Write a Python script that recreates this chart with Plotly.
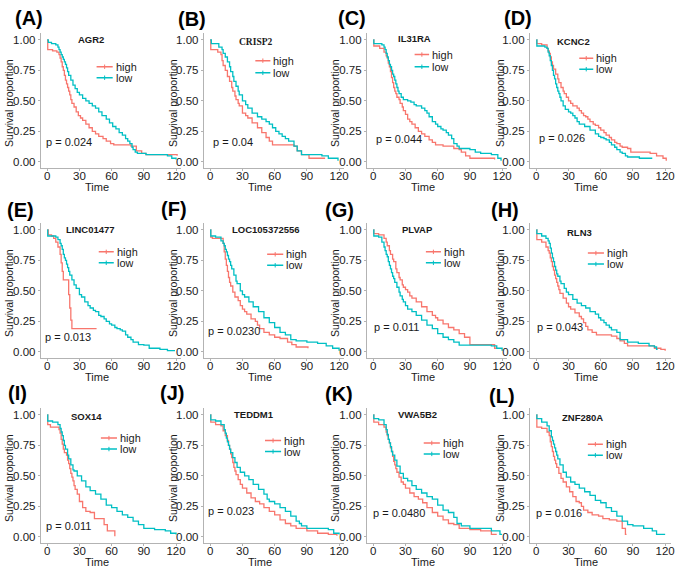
import plotly.graph_objects as go

W, H = 682, 570

# ---------------- data: Kaplan-Meier curves [time, survival] ----------------
AGR2_high = [[0,1.0],[0.5,0.92],[5,0.91],[9,0.90],[11,0.88],[12,0.85],[13,0.82],[14,0.78],[15,0.75],[16,0.71],[17,0.67],[18,0.64],[19,0.61],[20,0.58],[21,0.55],[22,0.51],[23,0.48],[25,0.45],[27,0.41],[29,0.38],[31,0.36],[33,0.34],[36,0.31],[39,0.28],[42,0.25],[45,0.23],[48,0.21],[52,0.19],[55,0.17],[59,0.15],[62,0.14],[78,0.13],[83,0.09],[88,0.07],[92,0.06],[121,0.05]]
AGR2_low = [[0,1.0],[1,0.98],[4,0.97],[8,0.96],[10,0.94],[11,0.92],[12,0.90],[13,0.88],[14,0.86],[15,0.84],[16,0.82],[17,0.80],[18,0.77],[19,0.74],[20,0.71],[22,0.67],[24,0.63],[26,0.60],[28,0.57],[30,0.55],[33,0.52],[36,0.50],[39,0.48],[42,0.46],[45,0.44],[48,0.41],[51,0.38],[55,0.35],[58,0.32],[61,0.29],[64,0.27],[67,0.24],[70,0.22],[73,0.19],[75,0.17],[77,0.15],[79,0.12],[80,0.10],[82,0.08],[84,0.07],[92,0.06],[112,0.05],[116,0.03],[120,0.02]]

CRISP2_high = [[0,1.0],[0.5,0.92],[7,0.90],[10,0.88],[11,0.83],[12,0.79],[14,0.75],[16,0.70],[18,0.66],[20,0.61],[21,0.58],[23,0.54],[24,0.51],[26,0.48],[27,0.46],[30,0.40],[33,0.38],[35,0.36],[39,0.32],[44,0.28],[48,0.24],[52,0.20],[55,0.17],[58,0.14],[78,0.13],[81,0.09],[85,0.06],[92,0.03],[107,0.03]]
CRISP2_low = [[0,1.0],[1,0.97],[8,0.94],[11,0.92],[12,0.89],[14,0.86],[16,0.82],[18,0.78],[19,0.74],[21,0.70],[22,0.66],[24,0.62],[26,0.58],[27,0.55],[30,0.50],[33,0.47],[35,0.44],[39,0.40],[44,0.37],[48,0.35],[52,0.33],[55,0.31],[58,0.28],[61,0.25],[64,0.23],[67,0.21],[70,0.19],[73,0.17],[78,0.13],[81,0.09],[85,0.06],[98,0.06],[104,0.05],[110,0.03],[119,0.01]]

IL31RA_high = [[0,1.0],[0.5,0.95],[6,0.93],[10,0.90],[12,0.87],[13,0.85],[14,0.81],[15,0.78],[16,0.74],[17,0.69],[18,0.65],[19,0.61],[20,0.58],[21,0.56],[22,0.53],[24,0.51],[25,0.48],[27,0.45],[28,0.42],[30,0.39],[32,0.35],[34,0.33],[36,0.31],[39,0.28],[42,0.25],[45,0.23],[48,0.21],[52,0.18],[55,0.16],[58,0.14],[65,0.13],[75,0.11],[80,0.10],[82,0.08],[86,0.05],[90,0.03],[113,0.02]]
IL31RA_low = [[0,1.0],[0.5,0.97],[8,0.96],[10,0.94],[11,0.92],[12,0.89],[13,0.86],[14,0.83],[15,0.80],[16,0.78],[17,0.75],[18,0.72],[19,0.70],[20,0.67],[21,0.64],[22,0.61],[23,0.58],[24,0.56],[26,0.53],[28,0.51],[32,0.50],[35,0.49],[38,0.47],[40,0.46],[45,0.44],[48,0.42],[50,0.40],[52,0.37],[55,0.33],[58,0.31],[60,0.29],[63,0.27],[65,0.26],[68,0.24],[70,0.22],[73,0.19],[75,0.15],[78,0.13],[80,0.11],[90,0.10],[95,0.08],[100,0.07],[110,0.06],[116,0.03],[119,0.01]]

KCNC2_high = [[0,1.0],[0.5,0.97],[5,0.96],[10,0.93],[11,0.91],[12,0.89],[13,0.86],[14,0.82],[15,0.79],[16,0.76],[18,0.72],[20,0.68],[21,0.65],[23,0.61],[25,0.58],[26,0.56],[28,0.53],[30,0.50],[32,0.48],[34,0.46],[38,0.44],[40,0.42],[42,0.40],[44,0.38],[46,0.37],[48,0.35],[50,0.33],[53,0.31],[55,0.30],[58,0.28],[60,0.26],[63,0.24],[65,0.22],[68,0.20],[70,0.18],[73,0.16],[75,0.15],[78,0.13],[80,0.12],[85,0.11],[88,0.08],[100,0.08],[106,0.07],[112,0.05],[118,0.03],[121,0.01]]
KCNC2_low = [[0,1.0],[0.5,0.95],[8,0.94],[10,0.93],[11,0.90],[12,0.87],[13,0.83],[14,0.79],[15,0.75],[16,0.71],[17,0.68],[18,0.64],[19,0.61],[20,0.58],[21,0.56],[22,0.53],[23,0.50],[25,0.46],[27,0.43],[30,0.41],[32,0.40],[34,0.38],[36,0.36],[38,0.33],[40,0.31],[45,0.29],[50,0.26],[55,0.23],[58,0.21],[60,0.20],[63,0.19],[65,0.18],[68,0.16],[70,0.14],[73,0.12],[75,0.10],[78,0.08],[80,0.07],[83,0.05],[85,0.04],[96,0.03],[108,0.03]]

LINC01477_high = [[0,1.0],[1,0.96],[4,0.95],[6,0.93],[8,0.90],[10,0.86],[12,0.80],[13,0.73],[14,0.66],[15,0.59],[19,0.59],[20,0.47],[21,0.36],[22,0.26],[23,0.19],[46,0.19]]
LINC01477_low = [[0,1.0],[0.5,0.95],[8,0.94],[10,0.92],[12,0.89],[13,0.87],[14,0.84],[15,0.80],[16,0.77],[17,0.75],[18,0.72],[19,0.69],[20,0.66],[21,0.63],[23,0.59],[25,0.55],[27,0.52],[30,0.47],[32,0.45],[35,0.41],[38,0.38],[40,0.36],[43,0.34],[45,0.33],[48,0.30],[50,0.29],[53,0.27],[55,0.25],[58,0.23],[60,0.22],[63,0.20],[65,0.19],[68,0.18],[70,0.17],[73,0.14],[75,0.12],[78,0.10],[80,0.08],[85,0.06],[90,0.055],[95,0.03],[105,0.02],[112,0.01],[119,0.01]]

LOC105372556_high = [[0,1.0],[0.5,0.94],[2,0.93],[12,0.89],[13,0.82],[14,0.76],[15,0.71],[16,0.66],[17,0.61],[18,0.57],[19,0.54],[21,0.49],[23,0.45],[26,0.42],[28,0.38],[30,0.35],[32,0.33],[34,0.31],[38,0.27],[42,0.25],[44,0.22],[46,0.19],[50,0.16],[55,0.14],[60,0.12],[65,0.11],[72,0.08],[76,0.06],[80,0.04],[91,0.03]]
LOC105372556_low = [[0,1.0],[0.5,0.95],[5,0.94],[10,0.91],[12,0.89],[13,0.87],[14,0.84],[15,0.82],[16,0.79],[17,0.76],[18,0.74],[19,0.71],[20,0.68],[22,0.63],[24,0.58],[25,0.56],[28,0.50],[30,0.47],[32,0.45],[36,0.41],[40,0.37],[45,0.33],[50,0.28],[55,0.24],[60,0.20],[65,0.16],[70,0.14],[75,0.10],[80,0.09],[90,0.08],[100,0.07],[108,0.05],[114,0.03],[120,0.01]]

PLVAP_high = [[0,1.0],[0.5,0.97],[5,0.96],[10,0.93],[12,0.90],[13,0.87],[15,0.83],[16,0.80],[18,0.76],[19,0.74],[21,0.68],[22,0.65],[24,0.61],[25,0.59],[27,0.55],[28,0.53],[30,0.51],[32,0.49],[34,0.46],[36,0.44],[40,0.41],[45,0.37],[50,0.33],[55,0.30],[58,0.28],[60,0.26],[65,0.23],[70,0.20],[75,0.18],[80,0.15],[85,0.12],[90,0.06],[110,0.06],[113,0.03],[115,0.03]]
PLVAP_low = [[0,1.0],[0.5,0.95],[5,0.94],[8,0.90],[10,0.86],[11,0.83],[12,0.80],[13,0.78],[14,0.74],[15,0.71],[16,0.68],[17,0.65],[18,0.62],[19,0.60],[20,0.57],[22,0.53],[24,0.49],[25,0.46],[27,0.43],[28,0.41],[30,0.38],[32,0.35],[36,0.33],[40,0.30],[45,0.26],[50,0.22],[55,0.19],[60,0.15],[65,0.12],[70,0.10],[75,0.08],[80,0.055],[110,0.05],[115,0.03],[120,0.01]]

RLN3_high = [[0,1.0],[0.5,0.92],[5,0.90],[9,0.86],[11,0.83],[12,0.81],[13,0.77],[14,0.74],[15,0.70],[16,0.67],[17,0.63],[18,0.60],[19,0.57],[20,0.54],[21,0.51],[22,0.48],[25,0.44],[28,0.40],[30,0.37],[32,0.35],[36,0.32],[40,0.29],[42,0.27],[44,0.24],[46,0.21],[48,0.18],[52,0.16],[56,0.14],[70,0.13],[75,0.11],[78,0.09],[82,0.07],[85,0.05],[100,0.05],[110,0.03],[116,0.02],[120,0.01]]
RLN3_low = [[0,1.0],[0.5,0.97],[5,0.95],[9,0.93],[11,0.91],[12,0.89],[13,0.85],[14,0.81],[15,0.77],[16,0.74],[17,0.70],[18,0.67],[19,0.64],[20,0.62],[22,0.58],[23,0.56],[26,0.52],[28,0.49],[30,0.47],[34,0.43],[38,0.40],[42,0.38],[46,0.36],[50,0.33],[55,0.31],[58,0.28],[60,0.26],[63,0.24],[65,0.22],[68,0.20],[70,0.18],[75,0.16],[78,0.10],[85,0.08],[95,0.07],[105,0.05],[110,0.04],[112,0.02],[113,0.02]]

SOX14_high = [[0,1.0],[0.5,0.92],[3,0.90],[11,0.88],[12,0.85],[13,0.80],[14,0.76],[15,0.72],[16,0.69],[18,0.67],[19,0.63],[20,0.60],[21,0.56],[22,0.52],[23,0.49],[24,0.46],[25,0.42],[26,0.39],[28,0.35],[30,0.29],[33,0.24],[36,0.21],[40,0.20],[44,0.15],[50,0.15],[53,0.10],[56,0.05],[62,0.05],[63,0.005]]
SOX14_low = [[0,1.0],[0.5,0.95],[5,0.94],[10,0.92],[12,0.89],[13,0.86],[14,0.83],[15,0.79],[16,0.75],[17,0.72],[19,0.67],[20,0.64],[22,0.59],[24,0.55],[25,0.54],[28,0.50],[32,0.46],[36,0.41],[40,0.38],[45,0.35],[50,0.31],[55,0.26],[60,0.24],[65,0.21],[70,0.18],[75,0.16],[80,0.13],[85,0.10],[90,0.07],[100,0.06],[110,0.05],[115,0.03],[120,0.02]]

TEDDM1_high = [[0,1.0],[0.5,0.94],[5,0.92],[10,0.91],[12,0.87],[14,0.83],[16,0.79],[17,0.75],[18,0.72],[19,0.68],[20,0.65],[21,0.61],[22,0.57],[23,0.54],[24,0.51],[26,0.47],[28,0.43],[30,0.40],[34,0.36],[38,0.32],[42,0.29],[46,0.27],[50,0.24],[55,0.21],[60,0.18],[65,0.14],[70,0.11],[75,0.09],[80,0.07],[90,0.05],[100,0.03],[110,0.02],[118,0.01]]
TEDDM1_low = [[0,1.0],[0.5,0.96],[5,0.95],[10,0.92],[13,0.88],[14,0.85],[15,0.81],[16,0.78],[17,0.75],[18,0.72],[19,0.69],[21,0.65],[23,0.61],[25,0.57],[28,0.53],[32,0.50],[36,0.47],[40,0.43],[45,0.39],[50,0.35],[53,0.31],[55,0.29],[60,0.27],[65,0.24],[70,0.21],[75,0.17],[80,0.13],[83,0.11],[85,0.09],[90,0.07],[100,0.07],[110,0.06],[115,0.03],[120,0.02]]

VWA5B2_high = [[0,1.0],[0.5,0.94],[5,0.92],[10,0.90],[12,0.86],[13,0.83],[14,0.80],[15,0.77],[16,0.73],[17,0.70],[18,0.66],[19,0.62],[20,0.59],[21,0.56],[22,0.53],[24,0.49],[26,0.45],[28,0.43],[30,0.40],[34,0.36],[38,0.33],[42,0.31],[46,0.28],[50,0.24],[55,0.20],[60,0.17],[65,0.14],[70,0.11],[75,0.10],[80,0.07],[90,0.06],[100,0.05],[110,0.02],[115,0.02]]
VWA5B2_low = [[0,1.0],[0.5,0.97],[5,0.96],[10,0.92],[12,0.88],[13,0.84],[14,0.80],[15,0.77],[16,0.74],[17,0.70],[18,0.67],[20,0.63],[22,0.58],[25,0.52],[28,0.48],[32,0.46],[36,0.42],[40,0.39],[45,0.36],[50,0.33],[55,0.31],[60,0.26],[65,0.22],[70,0.20],[75,0.16],[78,0.11],[82,0.09],[90,0.07],[100,0.07],[110,0.05],[118,0.02],[120,0.02]]

ZNF280A_high = [[0,1.0],[0.5,0.90],[5,0.89],[10,0.86],[12,0.83],[13,0.78],[14,0.74],[15,0.70],[16,0.66],[17,0.63],[18,0.60],[19,0.57],[21,0.52],[23,0.48],[25,0.45],[28,0.41],[31,0.37],[34,0.33],[37,0.29],[40,0.28],[42,0.25],[44,0.22],[48,0.20],[52,0.18],[58,0.17],[62,0.15],[68,0.14],[75,0.13],[80,0.07],[83,0.02],[84,0.02]]
ZNF280A_low = [[0,1.0],[0.5,0.97],[5,0.94],[10,0.91],[12,0.87],[14,0.82],[15,0.79],[16,0.76],[17,0.73],[18,0.70],[19,0.67],[20,0.64],[22,0.59],[25,0.53],[28,0.49],[32,0.45],[36,0.43],[40,0.40],[45,0.37],[50,0.34],[55,0.30],[60,0.28],[65,0.24],[70,0.21],[75,0.17],[80,0.13],[85,0.10],[90,0.09],[100,0.07],[108,0.05],[112,0.02],[120,0.02]]

genes = ["AGR2", "CRISP2", "IL31RA", "KCNC2", "LINC01477", "LOC105372556",
         "PLVAP", "RLN3", "SOX14", "TEDDM1", "VWA5B2", "ZNF280A"]
high_curves = [AGR2_high, CRISP2_high, IL31RA_high, KCNC2_high, LINC01477_high, LOC105372556_high,
               PLVAP_high, RLN3_high, SOX14_high, TEDDM1_high, VWA5B2_high, ZNF280A_high]
low_curves = [AGR2_low, CRISP2_low, IL31RA_low, KCNC2_low, LINC01477_low, LOC105372556_low,
              PLVAP_low, RLN3_low, SOX14_low, TEDDM1_low, VWA5B2_low, ZNF280A_low]
p_labels = ["p = 0.024", "p = 0.04", "p = 0.044", "p = 0.026", "p = 0.013", "p = 0.0230",
            "p = 0.011", "p = 0.043", "p = 0.011", "p = 0.023", "p = 0.0480", "p = 0.016"]
panel_tags = ["(A)", "(B)", "(C)", "(D)", "(E)", "(F)", "(G)", "(H)", "(I)", "(J)", "(K)", "(L)"]
x_ticks = [0, 30, 60, 90, 120]
y_ticks = [0, 0.25, 0.5, 0.75, 1.0]
group_names = ["high", "low"]

# ---------------- layout / style (positions in pixels or axis units) ----------------
HIGH_COLOR = "#F8766D"
LOW_COLOR = "#00BFC4"
TEXT = "#1a1a1a"
AXIS = "#b3b3b3"
FONT = "Liberation Sans, Arial, sans-serif"

col_axis_px = [41, 205, 369, 533]
row_bottom_px = [168, 358, 543]
ylab_px = [9, 174, 337, 503]
X_RANGE = [-6, 125]
Y_RANGE = [-0.05, 1.06]
PX_PER_T = 1.08
PX_PER_S = 122
plot_w = (X_RANGE[1] - X_RANGE[0]) * PX_PER_T
plot_h = (Y_RANGE[1] - Y_RANGE[0]) * PX_PER_S

gene_x = [41, 43, 38.5, 35, 40, 52, 41, 40, 37, 41, 41, 43]
gene_y = [1.0, 0.98, 1.01, 0.99, 1.0, 1.0, 1.0, 0.98, 0.99, 1.0, 1.0, 0.98]
leg_x = [(46, 61), (42, 56), (38.5, 52), (40, 53), (48, 62), (53, 68),
         (49, 63), (48, 63), (50, 65), (51, 66), (47, 62), (48, 62)]
leg_y = [(0.78, 0.69), (0.83, 0.73), (0.88, 0.78), (0.85, 0.76), (0.82, 0.73), (0.80, 0.71),
         (0.82, 0.73), (0.81, 0.72), (0.81, 0.72), (0.79, 0.70), (0.77, 0.68), (0.76, 0.67)]
p_x = [-3, 1, 1, 1, -4, -4, -1, -1, -3, -4, -2, -2]
p_y = [0.16, 0.16, 0.19, 0.20, 0.12, 0.17, 0.20, 0.20, 0.09, 0.21, 0.20, 0.20]
tag_px = [(13, 18), (177, 19), (338, 18), (505, 18),
          (5, 210), (160, 209), (325, 210), (492, 210),
          (6, 393), (159, 393), (325, 394), (490, 396)]
TIME_T = 46

fig = go.Figure()
annotations = []
shapes = []

for i, gene in enumerate(genes):
    r, c = divmod(i, 4)
    n = "" if i == 0 else str(i + 1)
    xa, ya = "x" + n, "y" + n
    left = col_axis_px[c]
    bottom = row_bottom_px[r]
    fig.update_layout(**{
        "xaxis" + n: dict(domain=[left / W, (left + plot_w) / W], anchor=ya, range=X_RANGE,
                          tickvals=x_ticks, ticktext=[str(v) for v in x_ticks],
                          showline=True, linecolor=AXIS, linewidth=1, ticks="outside",
                          ticklen=2, tickcolor=AXIS, showgrid=False, zeroline=False,
                          ticklabelstandoff=-5,
                          tickfont=dict(family=FONT, size=11.5, color=TEXT), fixedrange=True),
        "yaxis" + n: dict(domain=[1 - bottom / H, 1 - (bottom - plot_h) / H], anchor=xa, range=Y_RANGE,
                          tickvals=y_ticks, ticktext=["%.2f" % v for v in y_ticks],
                          showline=True, linecolor=AXIS, linewidth=1, ticks="outside",
                          ticklen=2, tickcolor=AXIS, showgrid=False, zeroline=False,
                          tickfont=dict(family=FONT, size=11.5, color=TEXT), fixedrange=True),
    })
    for curve, color in ((high_curves[i], HIGH_COLOR), (low_curves[i], LOW_COLOR)):
        fig.add_trace(go.Scatter(x=[p[0] for p in curve], y=[p[1] for p in curve], mode="lines",
                                 line=dict(color=color, width=1.3, shape="hv"),
                                 xaxis=xa, yaxis=ya, showlegend=False, hoverinfo="skip"))
    # legend keys
    for (name, color, yy) in ((group_names[0], HIGH_COLOR, leg_y[i][0]), (group_names[1], LOW_COLOR, leg_y[i][1])):
        x0, x1 = leg_x[i]
        shapes.append(dict(type="line", xref=xa, yref=ya, x0=x0, x1=x1, y0=yy, y1=yy,
                           line=dict(color=color, width=1.5)))
        xm = (x0 + x1) / 2
        shapes.append(dict(type="line", xref=xa, yref=ya, x0=xm, x1=xm, y0=yy - 0.018, y1=yy + 0.018,
                           line=dict(color=color, width=1)))
        annotations.append(dict(xref=xa, yref=ya, x=x1 + 0.8, y=yy, text=name, showarrow=False,
                                xanchor="left", yanchor="middle", height=12,
                                font=dict(family=FONT, size=11, color=TEXT)))
    # gene title
    gfont = "Liberation Serif, Times New Roman, serif" if gene == "CRISP2" else FONT
    annotations.append(dict(xref=xa, yref=ya, x=gene_x[i], y=gene_y[i], text="<b>%s</b>" % gene,
                            showarrow=False, xanchor="center", yanchor="middle",
                            font=dict(family=gfont, size=9.5, color=TEXT)))
    # p value
    annotations.append(dict(xref=xa, yref=ya, x=p_x[i], y=p_y[i], text=p_labels[i], showarrow=False,
                            xanchor="left", yanchor="middle", font=dict(family=FONT, size=11, color=TEXT)))
    # axis titles
    annotations.append(dict(xref=xa, yref="paper", x=TIME_T, y=1 - (bottom + 19) / H, text="Time",
                            showarrow=False, xanchor="center", yanchor="middle",
                            font=dict(family=FONT, size=11, color=TEXT)))
    annotations.append(dict(xref="paper", yref="paper", x=ylab_px[c] / W, y=1 - (bottom - 65) / H,
                            text="Survival proportion", textangle=-90, showarrow=False,
                            xanchor="center", yanchor="middle",
                            font=dict(family=FONT, size=10.5, color=TEXT)))
    # panel tag
    tx, ty = tag_px[i]
    annotations.append(dict(xref="paper", yref="paper", x=tx / W, y=1 - ty / H,
                            text="<b>%s</b>" % panel_tags[i], showarrow=False,
                            xanchor="left", yanchor="middle",
                            font=dict(family=FONT, size=20, color="#000000")))

fig.update_layout(width=W, height=H, margin=dict(l=0, r=0, t=0, b=0),
                  paper_bgcolor="white", plot_bgcolor="white",
                  annotations=annotations, shapes=shapes, showlegend=False)

fig.write_html("out.html", config={"displayModeBar": False},
               post_script="document.body.style.margin='0';document.body.style.overflow='hidden';")
